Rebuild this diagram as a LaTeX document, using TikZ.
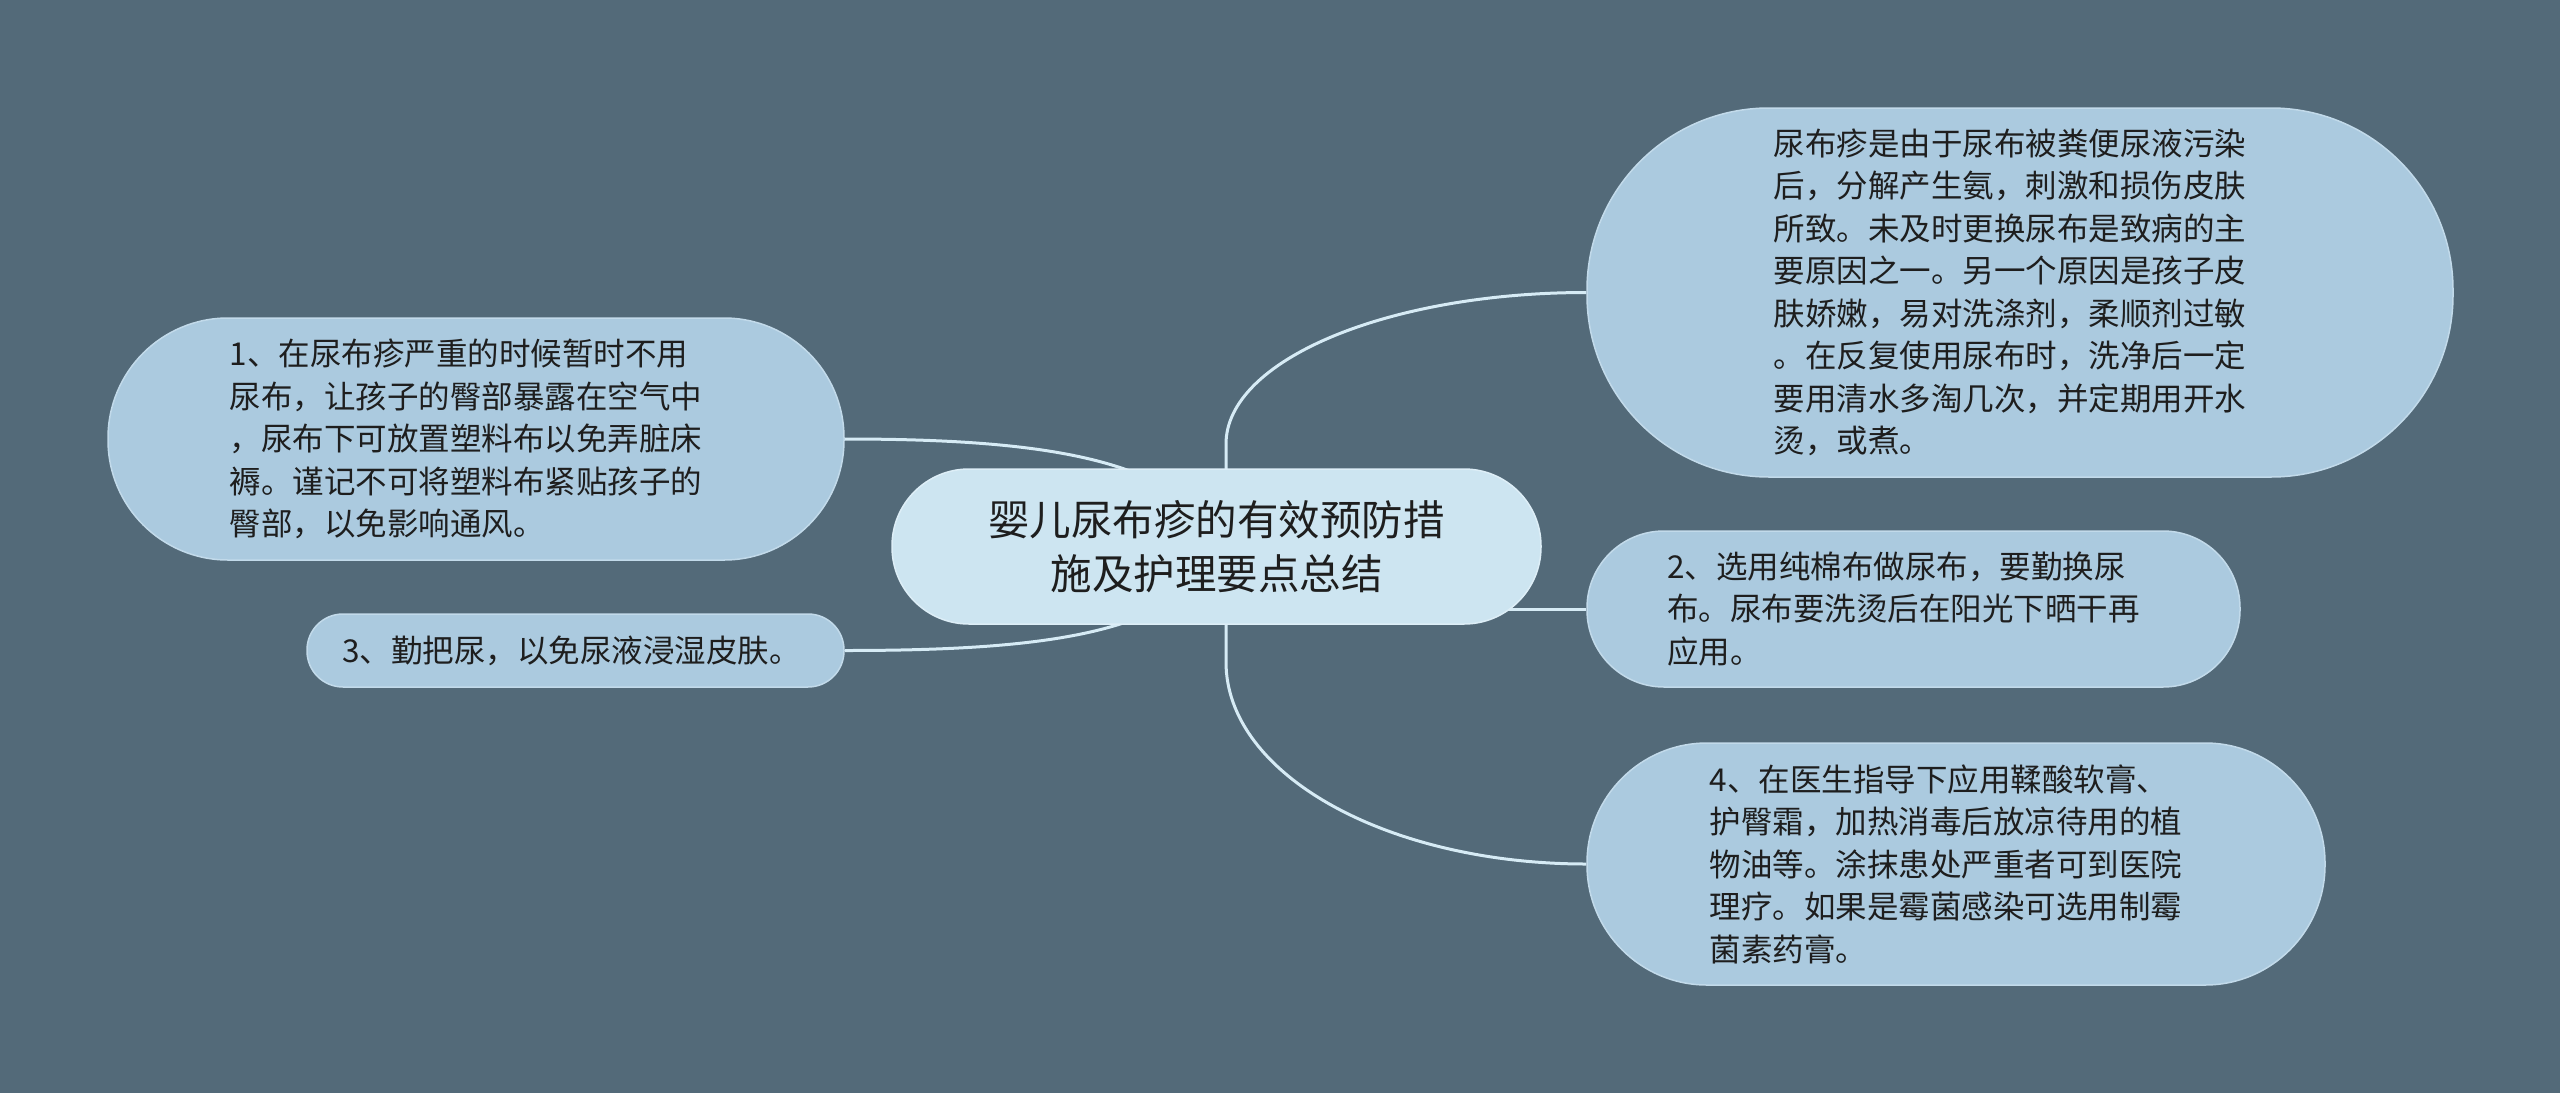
\documentclass[tikz,border=0pt]{standalone}
\usepackage{fontspec}
\setmainfont{Noto Sans CJK SC}
\definecolor{bgc}{HTML}{536A79}
\definecolor{leaffill}{HTML}{ABCADF}
\definecolor{leafedge}{HTML}{C2DAEA}
\definecolor{rootfill}{HTML}{CDE5F1}
\definecolor{rootedge}{HTML}{DDEEF7}
\definecolor{linec}{HTML}{D6EBF5}
\definecolor{txt}{HTML}{1E1E1E}
\pgfdeclarelayer{bg}
\pgfsetlayers{bg,main}
\begin{document}
\begin{tikzpicture}[x=1pt,y=1pt,
  leafbox/.style={fill=leaffill, draw=leafedge, line width=1.5pt, inner sep=0pt},
  leaftext/.style={text=txt, align=left, inner sep=0pt, font=\fontsize{31.5}{42.5}\selectfont},
  rootbox/.style={fill=rootfill, draw=rootedge, line width=1.5pt, text=txt,
    align=center, inner sep=0pt, font=\fontsize{41.5}{54}\selectfont},
  conn/.style={draw=linec, line width=3pt}]
\useasboundingbox (0,0) rectangle (2560,-1093);

% root
\node[rootbox, minimum width=649pt, minimum height=155pt, rounded corners=77pt]
  (c) at (1216.5,-546.5) {婴儿尿布疹的有效预防措\\施及护理要点总结};

% right side
\node[leafbox, minimum width=866pt, minimum height=369pt, rounded corners=182pt]
  (tr) at (2020,-292.5) {};
\node[leaftext] (trt) at ([xshift=-10pt]tr.center) {尿布疹是由于尿布被粪便尿液污染\\后，分解产生氨，刺激和损伤皮肤\\所致。未及时更换尿布是致病的主\\要原因之一。另一个原因是孩子皮\\肤娇嫩，易对洗涤剂，柔顺剂过敏\\。在反复使用尿布时，洗净后一定\\要用清水多淘几次，并定期用开水\\烫，或煮。};
\node[leafbox, minimum width=653pt, minimum height=156pt, rounded corners=77pt]
  (rm) at (1913.5,-609) {};
\node[leaftext] (rmt) at ([xshift=-10pt]rm.center) {2、选用纯棉布做尿布，要勤换尿\\布。尿布要洗烫后在阳光下晒干再\\应用。};
\node[leafbox, minimum width=738pt, minimum height=242pt, rounded corners=120pt]
  (rb) at (1956,-864) {};
\node[leaftext] (rbt) at ([xshift=-10pt]rb.center) {4、在医生指导下应用鞣酸软膏、\\护臀霜，加热消毒后放凉待用的植\\物油等。涂抹患处严重者可到医院\\理疗。如果是霉菌感染可选用制霉\\菌素药膏。};

% left side
\node[leafbox, minimum width=736pt, minimum height=242pt, rounded corners=120pt]
  (lt) at (476,-439) {};
\node[leaftext] (ltt) at ([xshift=-10pt]lt.center) {1、在尿布疹严重的时候暂时不用\\尿布，让孩子的臀部暴露在空气中\\，尿布下可放置塑料布以免弄脏床\\褥。谨记不可将塑料布紧贴孩子的\\臀部，以免影响通风。};
\node[leafbox, minimum width=537pt, minimum height=73pt, rounded corners=36pt]
  (lb) at (575.5,-650.5) {};
\node[leaftext] (lbt) at ([xshift=-4pt]lb.center) {3、勤把尿，以免尿液浸湿皮肤。};

\begin{pgfonlayer}{bg}
  \fill[bgc] (0,0) rectangle (2560,-1093);
  \draw[conn] ([xshift=10pt]c.center) -- (1226,-444)
     .. controls (1226,-360) and (1388,-292.5) .. (tr.west);
  \draw[conn] ([xshift=10pt]c.center) |- (rm.west);
  \draw[conn] ([xshift=10pt]c.center) -- (1226,-662)
     .. controls (1226,-775) and (1388,-864) .. (rb.west);
  \draw[conn] ([xshift=8pt]c.center) .. controls (1180,-460) and (1050,-439) .. (lt.east);
  \draw[conn] ([xshift=8pt]c.center) .. controls (1180,-633) and (1050,-650.5) .. (lb.east);
\end{pgfonlayer}
\end{tikzpicture}
\end{document}
